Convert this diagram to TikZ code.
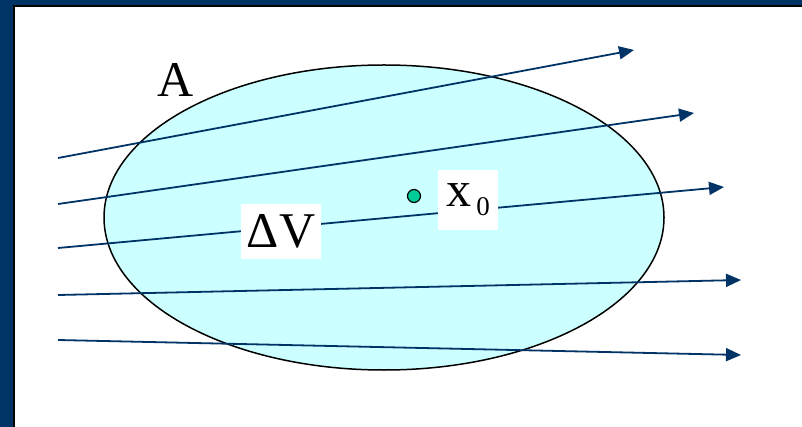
\documentclass[tikz,border=0pt]{standalone}
\usepackage{fontspec}
\setmainfont{Liberation Serif}
\newfontfamily\timesfont{Liberation Serif}
\usepackage{xcolor}
\usepackage{tikz}
\usetikzlibrary{arrows.meta, positioning}

\definecolor{navy}{HTML}{003366}
\definecolor{volcyan}{HTML}{CCFFFF}
\definecolor{dotgreen}{HTML}{00CC99}

\begin{document}
\begin{tikzpicture}[x=1pt, y=-1pt, >={Triangle[length=15pt,width=13pt]},
  flow/.style={->, navy, line width=1.8pt},
  bigtext/.style={font=\timesfont\fontsize{50}{60}\selectfont},
  lbl/.style={bigtext, fill=white, inner sep=0pt}]
  \useasboundingbox (0,0) rectangle (802,427);
  % frame
  \fill[navy] (0,0) rectangle (802,5);
  \fill[navy] (0,0) rectangle (13,427);
  \fill[black] (13,5) rectangle (802,7);
  \fill[black] (13,5) rectangle (15,427);
  % volume
  \draw[fill=volcyan, line width=1.5pt] (384,217.5) ellipse [x radius=280, y radius=152.5];
  % flow lines
  \coordinate (s1) at (58,158);  \coordinate (e1) at (634,50);
  \coordinate (s2) at (58,204);  \coordinate (e2) at (694,113);
  \coordinate (s3) at (58,248);  \coordinate (e3) at (724,187);
  \coordinate (s4) at (58,295);  \coordinate (e4) at (741,280);
  \coordinate (s5) at (58,340);  \coordinate (e5) at (741,355);
  \foreach \i in {1,...,5}
    \draw[flow] (s\i) -- (e\i);
  % labels
  \node[bigtext] (A) at (176,80) {A};
  \node[lbl, minimum width=80pt, minimum height=55pt] (dV) at (281,231.5) {ΔV};
  \node[draw, circle, fill=dotgreen, line width=1.2pt, minimum size=13pt, inner sep=0pt] (x0dot) at (414,196) {};
  \node[lbl, minimum width=60pt, minimum height=60pt] (x0) at (468,200)
    {x\hspace{5pt}\raisebox{-9pt}{\fontsize{27}{30}\selectfont 0}};
\end{tikzpicture}
\end{document}
